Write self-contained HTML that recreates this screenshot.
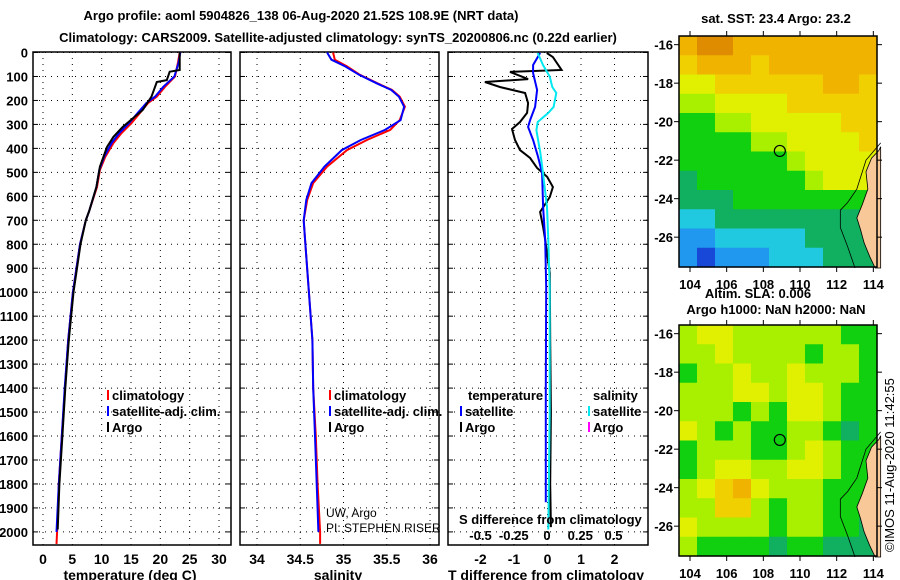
<!DOCTYPE html>
<html><head><meta charset="utf-8"><style>
html,body{margin:0;padding:0;background:#fff;}
svg{display:block;font-family:"Liberation Sans",sans-serif;}
.b{font-weight:bold;font-size:13px;}
.t{font-weight:bold;font-size:14px;}
</style></head><body>
<svg id="c" width="900" height="580" viewBox="0 0 900 580">
<text class="b" x="301" y="20" text-anchor="middle" font-size="15">Argo profile: aoml 5904826_138 06-Aug-2020 21.52S 108.9E (NRT data)</text>
<text class="b" x="338" y="42" text-anchor="middle" font-size="15">Climatology: CARS2009. Satellite-adjusted climatology: synTS_20200806.nc (0.22d earlier)</text>
</svg>
<script>
// ---------- data ----------
const depthTicks=[0,100,200,300,400,500,600,700,800,900,1000,1100,1200,1300,1400,1500,1600,1700,1800,1900,2000];
const tempTicks=[0,5,10,15,20,25,30];
const salTicks=[34,34.5,35,35.5,36];
const salTickLabels=["34","34.5","35","35.5","36"];
const tdTicks=[-2,-1,0,1,2];
const sdTicks=[-0.5,-0.25,0,0.25,0.5];
const sdTickLabels=["-0.5","-0.25","0","0.25","0.5"];

const tempClimDepth=[0,44,100,143,184,211,253,294,336,378,436,490,561,660,700,800,1000,1200,1400,1600,1800,2000,2050];
const tempClim=[23.3,23.0,22.5,20.8,19.4,17.9,16.5,15.1,13.4,12.0,10.6,9.7,9.2,7.9,7.3,6.3,5.1,4.3,3.75,3.2,2.7,2.4,2.3];
const tempSat=[23.4,23.1,22.4,20.5,19.1,17.6,16.1,14.7,13.0,11.7,10.4,9.6,9.1,7.9,7.3,6.3,5.1,4.3,3.7,3.2,2.7,2.3,2.3];
const tempArgoDepth=[0,73,80,115,123,184,240,310,352,394,477,561,660,700,800,1000,1200,1400,1600,1800,1990];
const tempArgo=[23.3,23.3,21.6,21.1,19.4,18.5,17.0,13.6,12.0,10.9,9.7,9.1,7.9,7.3,6.4,5.2,4.4,3.8,3.3,2.8,2.5];

const salDepth=[0,30,58,93,128,156,184,226,282,323,365,407,476,545,615,700,800,1000,1200,1400,1600,1800,2000,2050];
const salClim=[34.88,34.90,35.04,35.19,35.39,35.56,35.65,35.71,35.65,35.54,35.27,35.04,34.81,34.65,34.58,34.54,34.56,34.60,34.64,34.65,34.68,34.70,34.73,34.73];
const salSat=[34.81,34.86,35.02,35.18,35.38,35.55,35.64,35.70,35.66,35.48,35.20,34.98,34.78,34.63,34.57,34.54,34.56,34.60,34.64,34.65,34.67,34.69,34.71,34.71];

const tdArgoDepth=[2,19,73,81,111,123,144,169,211,252,290,319,365,407,440,482,519,561,603,665,728,782,920,1200,1500,1800,1980];
const tdArgo=[-0.02,0.16,0.42,-1.12,-0.58,-1.87,-1.42,-0.67,-0.58,-0.61,-0.82,-1.06,-0.97,-0.82,-0.52,-0.31,-0.01,0.16,0.07,-0.22,-0.13,-0.07,0.07,0.08,0.1,0.08,0.1];
const tdSatDepth=[2,52,86,156,227,282,311,365,436,503,644,782,978,1400,1876];
const tdSat=[-0.22,-0.43,-0.43,-0.31,-0.37,-0.52,-0.58,-0.43,-0.28,-0.16,-0.13,-0.07,-0.04,-0.05,-0.05];
const sdSatDepth=[2,52,100,144,169,227,252,290,324,420,503,644,782,978,1500,1990];
const sdSat=[-0.07,-0.03,0.02,0.04,0.07,0.05,0.01,-0.07,-0.08,-0.05,-0.03,0,0.01,0.02,0.02,0.01];

const lonTicks=[104,106,108,110,112,114];
const latTicks=[-16,-18,-20,-22,-24,-26];
const mapPalette=["#1848d8","#2098f0","#20c8e0","#10b060","#10d010","#a8f000","#e0f000","#f0d000","#f0b400","#e08c00"];
const sstGrid=[
"89988888888","78887888888","66777777887","55666677777","44556666677","44445566667",
"44444456666","34444445666","33344444444","22333333333","11222223333","10111222333"];
const slaGrid=[
"56655555544","55655554554","45565565554","55566566544","55545466544","65454455434",
"45554456544","45665566544","56786555444","55775455444","65555455443","54444344333"];
const mapLat0=-15.55, mapLat1=-27.55, mapLon0=103.4, mapLon1=114.2;
const argoLon=108.9, argoLat=-21.52;
const coastLon=[114.4,114.3,113.9,113.6,113.7,113.4,113.1,113.3,113.5,113.8,114.1,114.4];
const coastLat=[-21.3,-21.5,-21.9,-22.6,-23.5,-24.3,-25.0,-25.6,-26.3,-27.0,-27.6,-27.6];
const shelfLon=[114.4,113.6,113.1,112.6,112.2,112.2,112.6,113.0];
const shelfLat=[-21.1,-22.0,-23.5,-24.2,-24.6,-25.5,-26.5,-27.6];

// ---------- helpers ----------
const NS="http://www.w3.org/2000/svg", svg=document.getElementById('c');
function mk(t,a,p){const e=document.createElementNS(NS,t);for(const k in a)e.setAttribute(k,a[k]);(p||svg).appendChild(e);return e;}
function txt(s,x,y,a){const e=mk('text',Object.assign({x:x,y:y,'class':'b'},a||{}));e.textContent=s;return e;}
const plotTop=52, plotBot=545;
const yD=d=>52.5+d*0.2397;
const panels=[
 {x0:33,x1:231,f:v=>43+v*5.867},
 {x0:240,x1:439,f:v=>257+(v-34)*86.5},
 {x0:448,x1:648,f:v=>547.5+v*33.5}
];
const fS=v=>547+v*133;

function line(depths,vals,fx,color,name){
  const p=depths.map((d,i)=>fx(vals[i]).toFixed(1)+','+yD(d).toFixed(1)).join(' ');
  const e=mk('polyline',{points:p,fill:'none',stroke:color,'stroke-width':2});
  
  
}

// panels
panels.forEach((P,pi)=>{
  const g=mk('g',{});
  
  
  depthTicks.forEach(d=>{
    const y=yD(d);
    mk('line',{x1:P.x0,x2:P.x1,y1:y,y2:y,stroke:'#000','stroke-width':1,'stroke-dasharray':'1,5'},g);
    mk('line',{x1:P.x0,x2:P.x0+5,y1:y,y2:y,stroke:'#000'},g);
    mk('line',{x1:P.x1-5,x2:P.x1,y1:y,y2:y,stroke:'#000'},g);
  });
  const vt=pi===0?tempTicks:pi===1?salTicks:tdTicks;
  vt.forEach(v=>{
    const x=P.f(v);
    mk('line',{x1:x,x2:x,y1:plotTop,y2:plotBot,stroke:'#000','stroke-width':1,'stroke-dasharray':'1,5'},g);
  });
  mk('rect',{x:P.x0,y:plotTop,width:P.x1-P.x0,height:plotBot-plotTop,fill:'none',stroke:'#000','stroke-width':1.5},g);
});
depthTicks.forEach(d=>{
  const e=txt(String(d),28,yD(d)+5,{'text-anchor':'end'});
  
  
});
tempTicks.forEach(v=>{const e=txt(String(v),panels[0].f(v),564,{'text-anchor':'middle','class':'t'});
  });
salTicks.forEach((v,i)=>{const e=txt(salTickLabels[i],panels[1].f(v),564,{'text-anchor':'middle','class':'t'});
  });
tdTicks.forEach(v=>{const e=txt(String(v),panels[2].f(v),564,{'text-anchor':'middle','class':'t'});
  });
sdTicks.forEach((v,i)=>{const e=txt(sdTickLabels[i],fS(v),540,{'text-anchor':'middle'});
  });

// series
line(tempClimDepth,tempClim,panels[0].f,'#ff0000','temp-climatology-line');
line(tempClimDepth.slice(0,22),tempSat.slice(0,22),panels[0].f,'#0000ff','temp-satellite-line');
line(tempArgoDepth,tempArgo,panels[0].f,'#000000','temp-argo-line');
line(salDepth,salClim,panels[1].f,'#ff0000','salinity-climatology-line');
line(salDepth.slice(0,23),salSat.slice(0,23),panels[1].f,'#0000ff','salinity-satellite-line');
line(tdArgoDepth,tdArgo,panels[2].f,'#000000','t-diff-argo-line');
line(tdSatDepth,tdSat,panels[2].f,'#0000ff','t-diff-satellite-line');
line(sdSatDepth,sdSat,fS,'#00e8f0','s-diff-satellite-line');

// legends
function leg(x,y,color,label,name){
  const g=mk('g',{});
  
  
  mk('rect',{x:x,y:y-10,width:2,height:10,fill:color},g);
  const t=mk('text',{x:x+5,y:y,'class':'b'},g);t.textContent=label;
}
leg(107,400,'#ff0000','climatology','legend-climatology');
leg(107,416,'#0000ff','satellite-adj. clim.','legend-satellite-adj');
leg(107,432,'#000','Argo','legend-argo');
leg(329,400,'#ff0000','climatology','legend-climatology-sal');
leg(329,416,'#0000ff','satellite-adj. clim.','legend-satellite-adj-sal');
leg(329,432,'#000','Argo','legend-argo-sal');
txt('temperature',468,400);
leg(460,416,'#0000ff','satellite','legend-t-satellite');
leg(460,432,'#000','Argo','legend-t-argo');
txt('salinity',593,400);
leg(588,416,'#00e8f0','satellite','legend-s-satellite');
leg(588,432,'#ff00ff','Argo','legend-s-argo');
let el;
el=txt('UW, Argo',326,517,{'class':'','font-size':'12'});
el=txt('PI: STEPHEN RISER',326,532,{'class':'','font-size':'12'});
el=txt('S difference from climatology',459,524);
el=txt('temperature (deg C)',130,580,{'text-anchor':'middle','class':'t'});
el=txt('salinity',338,580,{'text-anchor':'middle','class':'t'});
el=txt('T difference from climatology',546,580,{'text-anchor':'middle','class':'t'});

// maps
function drawMap(y0,y1,grid,name){
  const x0=679,x1=877;
  const fx=l=>x0+(l-mapLon0)/(mapLon1-mapLon0)*(x1-x0);
  const fy=l=>y0+(mapLat0-l)/(mapLat0-mapLat1)*(y1-y0);
  const g=mk('g',{});
  
  
  const rows=grid.length, cols=grid[0].length, cw=(x1-x0)/cols, ch=(y1-y0)/rows;
  grid.forEach((r,ri)=>{for(let ci=0;ci<cols;ci++){
    const c=mk('rect',{x:x0+ci*cw,y:y0+ri*ch,width:cw+0.6,height:ch+0.6,fill:mapPalette[+r[ci]]},g);
    
    
  }});
  mk('polygon',{points:coastLon.map((l,i)=>fx(l)+','+fy(coastLat[i])).join(' '),fill:'#f8c898',stroke:'#000','stroke-width':0.8},g);
  mk('polyline',{points:shelfLon.map((l,i)=>fx(l)+','+fy(shelfLat[i])).join(' '),fill:'none',stroke:'#000','stroke-width':0.8},g);
  mk('circle',{cx:fx(argoLon),cy:fy(argoLat),r:5.5,fill:'none',stroke:'#000','stroke-width':1.2},g);
  mk('rect',{x:x0,y:y0,width:x1-x0,height:y1-y0,fill:'none',stroke:'#000','stroke-width':1.5},g);
  lonTicks.forEach(l=>{const x=fx(l);
    mk('line',{x1:x,x2:x,y1:y0-5,y2:y0,stroke:'#000'},g);mk('line',{x1:x,x2:x,y1:y1,y2:y1+5,stroke:'#000'},g);
    const t=txt(String(l),x,y1+22,{'text-anchor':'middle','font-size':'14'});});
  latTicks.forEach(l=>{const y=fy(l);
    mk('line',{x1:x0-5,x2:x0,y1:y,y2:y,stroke:'#000'},g);mk('line',{x1:x1,x2:x1+5,y1:y,y2:y,stroke:'#000'},g);
    const t=txt(String(l),673,y+5,{'text-anchor':'end','font-size':'14'});});
}
drawMap(36,267,sstGrid,'sst-map');
drawMap(325,556,slaGrid,'sla-map');
el=txt('sat. SST: 23.4 Argo: 23.2',776,23,{'text-anchor':'middle'});
el=txt('Altim. SLA: 0.006',758,298,{'text-anchor':'middle'});
el=txt('Argo h1000: NaN h2000: NaN',776,314,{'text-anchor':'middle'});
el=txt('©IMOS 11-Aug-2020 11:42:55',0,0,{'class':'','font-size':'13',transform:'translate(894,552) rotate(-90)'});
</script>
</body></html>
